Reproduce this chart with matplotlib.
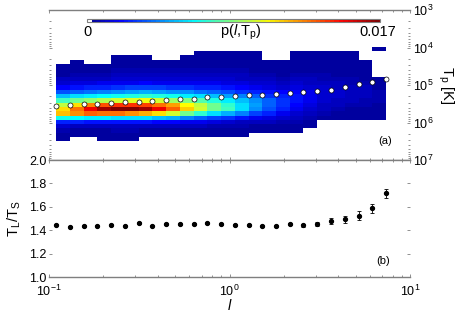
import numpy as np
import matplotlib
matplotlib.use("Agg")
import matplotlib.pyplot as plt
from matplotlib.colors import ListedColormap
from matplotlib.ticker import LogLocator, NullFormatter, FixedLocator, FormatStrFormatter

plt.rcParams['font.family'] = ['Liberation Sans', 'DejaVu Sans']
plt.rcParams['mathtext.fontset'] = 'custom'
plt.rcParams['mathtext.rm'] = 'Liberation Sans'
plt.rcParams['mathtext.it'] = 'Liberation Sans:italic'
plt.rcParams['mathtext.default'] = 'regular'

# ---------------- data ----------------
# l bin edges / sample points (log-spaced)
l_pts = [0.1093, 0.1303, 0.1553, 0.1851, 0.2206, 0.2629, 0.3133, 0.3733,
         0.4449, 0.5302, 0.6319, 0.7530, 0.8974, 1.0694, 1.2745, 1.5188,
         1.8100, 2.157, 2.570, 3.063, 3.650, 4.350, 5.185, 6.179, 7.364]

# log10 of T_p bin edges
logT_edges = [3.979, 4.094, 4.208, 4.323, 4.438, 4.552, 4.667, 4.782, 4.896,
              5.011, 5.126, 5.240, 5.355, 5.470, 5.584, 5.699, 5.814, 5.928,
              6.043, 6.158, 6.272, 6.387, 6.502]

# p(l, T_p) in units of 1e-4 ; one list per l column, rows from low T to high T
p_hist = [
    [0,0,0,0,3,4,5,8,12,20,34,52,72,95,110,115,64,25,12,6,4,3],
    [0,0,0,3,4,5,6,9,14,22,37,57,80,110,130,124,62,24,10,5,3,0],
    [0,0,0,0,3,5,6,9,14,24,39,60,86,126,150,132,60,22,10,5,3,0],
    [0,0,0,0,3,5,7,10,16,26,41,62,92,134,164,130,60,22,10,5,4,3],
    [0,0,3,4,5,6,8,11,17,28,43,65,96,140,170,128,58,22,10,6,4,3],
    [0,0,3,4,5,7,9,12,18,30,46,68,100,140,168,124,57,22,10,6,4,3],
    [0,0,3,4,5,7,9,13,19,31,48,70,102,138,164,118,56,22,10,5,3,0],
    [0,0,0,3,4,6,8,12,18,30,47,68,96,130,150,110,53,20,9,5,3,0],
    [0,0,0,3,4,6,8,12,18,28,45,64,90,120,132,98,49,20,9,5,3,0],
    [0,0,3,4,5,7,9,12,18,27,43,60,84,106,112,80,42,18,8,5,3,0],
    [0,3,3,4,5,7,9,12,17,26,39,56,77,94,98,70,36,16,8,4,3,0],
    [0,3,3,4,5,7,9,12,16,24,36,52,68,80,82,58,31,14,7,4,3,0],
    [0,3,3,4,5,6,8,11,15,22,32,46,60,70,72,50,27,12,6,4,3,0],
    [0,3,3,4,5,6,8,10,14,20,29,41,52,58,56,40,22,10,6,4,3,0],
    [0,3,3,4,4,5,7,9,12,17,25,35,43,46,43,31,18,9,5,3,0,0],
    [0,0,0,3,4,5,6,8,11,15,22,29,35,37,33,24,14,8,5,3,0,0],
    [0,0,0,3,3,4,5,7,10,13,19,24,28,28,25,18,11,7,4,3,0,0],
    [0,3,3,3,4,5,6,8,11,15,19,22,22,20,17,13,9,6,4,3,0,0],
    [0,3,3,3,4,5,6,8,10,13,16,17,16,14,12,9,7,5,3,0,0,0],
    [0,3,3,3,4,5,6,7,9,11,13,13,12,10,8,6,4,0,0,0,0,0],
    [0,3,3,3,3,4,5,6,8,10,11,11,10,8,6,5,3,0,0,0,0,0],
    [0,3,3,3,3,4,5,6,7,9,10,9,8,7,5,4,3,0,0,0,0,0],
    [0,0,0,3,3,3,4,5,6,8,9,8,7,6,5,4,3,0,0,0,0,0],
    [3,0,0,0,0,0,0,3,4,5,6,6,6,5,4,3,3,0,0,0,0,0],
]

# mean T_p at each l (white circles)
T_mean = [3.63e5, 3.48e5, 3.27e5, 3.15e5, 3.08e5, 2.89e5, 2.79e5, 2.67e5,
          2.47e5, 2.36e5, 2.32e5, 2.13e5, 2.05e5, 2.00e5, 1.88e5, 1.81e5,
          1.77e5, 1.63e5, 1.51e5, 1.42e5, 1.33e5, 1.11e5, 9.4e4, 8.3e4, 7.05e4]

# T_L / T_S ratio with error
ratio = [1.450, 1.432, 1.436, 1.441, 1.447, 1.441, 1.464, 1.441, 1.456,
         1.453, 1.456, 1.464, 1.453, 1.444, 1.444, 1.441, 1.438, 1.456,
         1.444, 1.453, 1.477, 1.496, 1.526, 1.590, 1.715]
ratio_err = [0.006, 0.006, 0.006, 0.006, 0.006, 0.006, 0.006, 0.006, 0.006,
             0.006, 0.006, 0.007, 0.007, 0.007, 0.008, 0.008, 0.009, 0.010,
             0.012, 0.015, 0.026, 0.029, 0.036, 0.038, 0.038]

p_max = 0.017

# ---------------- colormap (MATLAB jet(64), first entry white) ----------------
def matlab_jet(n=64):
    m = n // 4
    u = np.concatenate([np.arange(1, m + 1) / m, np.ones(m - 1), np.arange(m, 0, -1) / m])
    g = int(np.ceil(m / 2)) - (1 if n % 4 == 1 else 0) + np.arange(1, len(u) + 1)
    r = g + m
    b = g - m
    c = np.zeros((n, 3))
    for ch, idxs in enumerate([r, g, b]):
        for idx, val in zip(idxs, u):
            if 1 <= idx <= n:
                c[idx - 1, ch] = val
    return c

cols = matlab_jet(64)
cols[0] = [1, 1, 1]
cmap = ListedColormap(cols)

# ---------------- figure ----------------
W, H = 463, 313
fig = plt.figure(figsize=(W / 100, H / 100), dpi=100)
ax1 = fig.add_axes([49 / W, 1 - 160 / H, 361 / W, 150 / H])
ax2 = fig.add_axes([49 / W, 1 - 277.3 / H, 361 / W, 117.3 / H])

C = np.array(p_hist, dtype=float).T * 1e-4
T_edges = 10 ** np.array(logT_edges)
mesh = ax1.pcolormesh(l_pts, T_edges, C, cmap=cmap, vmin=0, vmax=p_max, shading='flat')
ax1.plot(l_pts, T_mean, 'o', mfc='white', mec='black', ms=3.6, mew=0.5, zorder=3)

gray = '#7f7f7f'
for ax in (ax1, ax2):
    ax.set_xscale('log')
    ax.set_xlim(0.1, 10)
    for s in ('left', 'right'):
        ax.spines[s].set_visible(False)
    for s in ('top', 'bottom'):
        ax.spines[s].set_color(gray)
        ax.spines[s].set_linewidth(1.0)
    ax.tick_params(which='both', direction='in', top=True, bottom=True,
                   left=True, right=True, color=gray, labelsize=9, pad=2)
    ax.tick_params(which='major', length=2.5, width=0.6)
    ax.tick_params(which='minor', length=1.5, width=0.6)

ax1.set_yscale('log')
ax1.set_ylim(1e7, 1e3)
ax1.yaxis.set_label_position('right')
ax1.tick_params(labelleft=False, labelright=True, labelbottom=False)
ax1.yaxis.set_major_locator(LogLocator(base=10, numticks=10))
ax1.yaxis.set_minor_locator(LogLocator(base=10, subs=np.arange(2, 10), numticks=20))
ax1.yaxis.set_minor_formatter(NullFormatter())
ax1.set_ylabel('T$_p$ [K]', rotation=270, fontsize=10.5, labelpad=16)
ax1.text(0.93, 0.125, '(a)', transform=ax1.transAxes, fontsize=8, ha='center', va='center')

ax2.errorbar(l_pts, ratio, yerr=ratio_err, fmt='o', color='black', ms=2.8,
             elinewidth=0.6, capsize=1.5, capthick=0.6)
ax2.set_ylim(1.0, 2.0)
ax2.yaxis.set_major_locator(FixedLocator([1.0, 1.2, 1.4, 1.6, 1.8, 2.0]))
ax2.yaxis.set_major_formatter(FormatStrFormatter('%.1f'))
ax2.tick_params(axis='x', pad=4.5)
ax2.set_ylabel('T$_L$/T$_S$', fontsize=10.5, labelpad=4)
ax2.set_xlabel('l', fontsize=10.5, fontstyle='italic', labelpad=0)
ax2.text(0.925, 0.14, '(b)', transform=ax2.transAxes, fontsize=8, ha='center', va='center')

# colorbar inside top panel
cax = fig.add_axes([87 / W, 1 - 22 / H, 293 / W, 3.5 / H])
cb = fig.colorbar(mesh, cax=cax, orientation='horizontal', ticks=[])
cb.outline.set_edgecolor(gray)
cb.outline.set_linewidth(0.8)
fig.text(87 / W, 1 - 32 / H, '0', ha='center', va='center', fontsize=10.5)
fig.text(241 / W, 1 - 32 / H, r'p($\mathit{l}$,T$_p$)', ha='center', va='center', fontsize=10.5)
fig.text(378 / W, 1 - 32 / H, '0.017', ha='center', va='center', fontsize=10.5)

fig.savefig('out.png', dpi=100)
